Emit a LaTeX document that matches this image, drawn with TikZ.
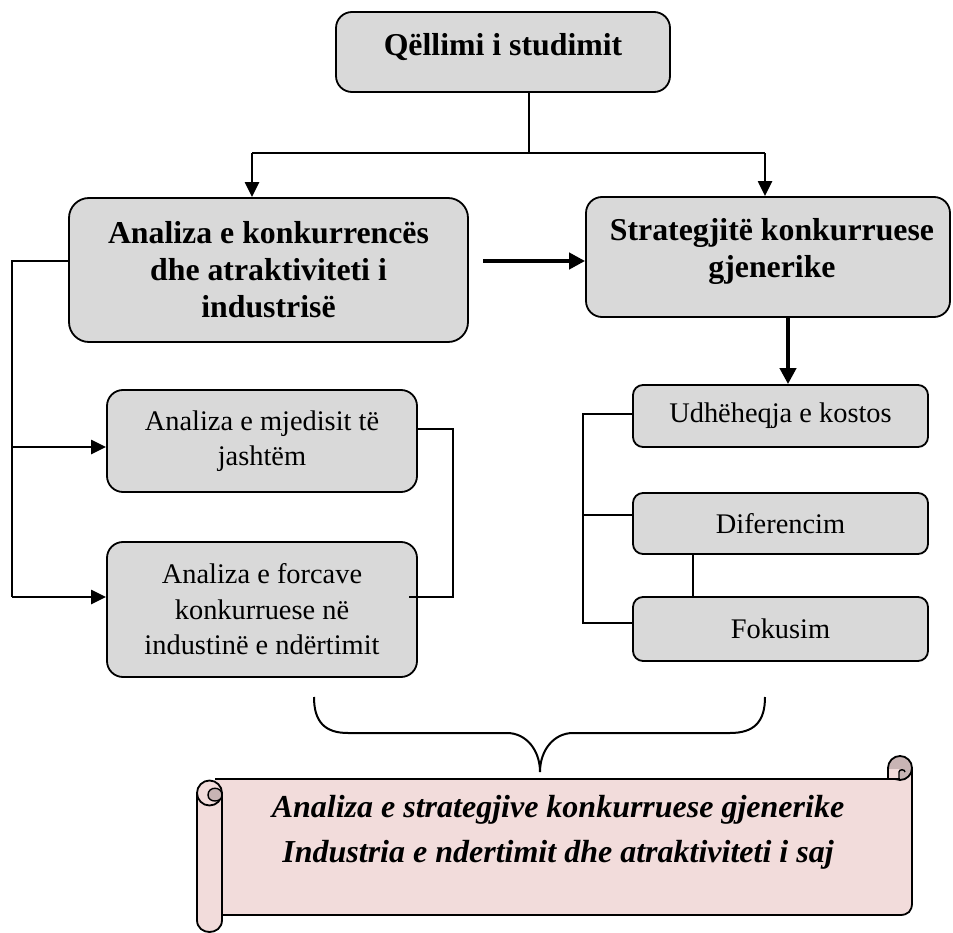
\documentclass[tikz,border=0pt]{standalone}
\usepackage{fontspec}
\setmainfont{Liberation Serif}
\usetikzlibrary{arrows.meta,calc}
\definecolor{boxgray}{HTML}{D9D9D9}
\definecolor{scrollpink}{HTML}{F2DCDB}
\definecolor{scrollroll}{RGB}{200,180,180}

\begin{document}
\begin{tikzpicture}[x=1pt,y=-1pt,
  box/.style={draw,fill=boxgray,line width=1.8pt,rounded corners=16pt,inner sep=0pt,align=center},
  smallbox/.style={box,rounded corners=10pt},
  headtxt/.style={font=\fontsize{31.8}{37}\selectfont\bfseries,align=center},
  bodytxt/.style={font=\fontsize{28.4}{35.5}\selectfont,align=center},
  scrolltxt/.style={font=\fontsize{32}{32}\selectfont\bfseries\itshape},
  link/.style={line width=1.6pt},
  thicklink/.style={line width=2.3pt},
  arr/.style={line width=2.3pt,-{Triangle[length=15pt,width=14pt]}},
  heavyarr/.style={line width=4pt,-{Triangle[length=16pt,width=16pt]}},
  scrollline/.style={line width=1.8pt,line join=round},
]
\useasboundingbox (0,0) rectangle (953,933);

% ---- boxes ----
\node[box,minimum width=334pt,minimum height=80pt] (goal) at (503,52) {};
\node[headtxt] (goaltxt) at ([yshift=5pt]goal.center) {Qëllimi i studimit};

\node[box,headtxt,rounded corners=20pt,minimum width=399pt,minimum height=144pt] (ana) at (268.5,270)
  {Analiza e konkurrencës\\dhe atraktiviteti i\\industrisë};

\node[box,minimum width=364pt,minimum height=120pt] (strat) at (768,257) {};
\node[headtxt] (strattxt) at ([xshift=4pt,yshift=5.5pt]strat.center) {Strategjitë konkurruese\\gjenerike};

\node[box,bodytxt,minimum width=310pt,minimum height=102pt] (env) at (262,441)
  {Analiza e mjedisit të\\jashtëm};
\node[box,bodytxt,minimum width=310pt,minimum height=135pt] (forc) at (262,609.5)
  {Analiza e forcave\\konkurruese në\\industinë e ndërtimit};

\node[smallbox,bodytxt,minimum width=295pt,minimum height=62pt] (cost) at (780.5,416) {Udhëheqja e kostos};
\node[smallbox,bodytxt,minimum width=295pt,minimum height=61pt] (dif) at (780.5,523.5) {Diferencim};
\node[smallbox,bodytxt,minimum width=295pt,minimum height=64pt] (fok) at (780.5,629) {Fokusim};

% ---- connectors from the goal ----
\coordinate (fork) at (529,153);
\coordinate (forkL) at (252,153);
\coordinate (forkR) at (765,153);
\draw[link] (goal.south -| fork) -- (fork);
\draw[thicklink] (forkL) -- (forkR);
\draw[arr] (forkL) -- (forkL |- ana.north);
\draw[arr] (forkR) -- (forkR |- strat.north);

% ---- left branch ----
\coordinate (lspine) at (12,261);
\coordinate (lenv) at (12,447);
\coordinate (lforc) at (12,597);
\draw[thicklink] (ana.west |- lspine) -- (lspine) -- (lforc);
\draw[arr] (lenv) -- (env.west |- lenv);
\draw[arr] (lforc) -- (forc.west |- lforc);
\coordinate (envout) at (453,429);
\coordinate (forcin) at (409,597);
\draw[link] (env.east |- envout) -- (envout) -- (envout |- forcin) -- (forcin);

% ---- heavy arrows ----
\coordinate (hstart) at (483,261);
\draw[heavyarr] (hstart) -- (strat.west |- hstart);
\coordinate (vline) at (788,0);
\draw[heavyarr] (strat.south -| vline) -- (cost.north -| vline);

% ---- right branch ----
\coordinate (rtop) at (583,414);
\coordinate (rmid) at (583,515);
\coordinate (rbot) at (583,623);
\draw[link,line width=1.8pt] (cost.west |- rtop) -- (rtop) -- (rbot) -- (fok.west |- rbot);
\draw[link,line width=1.8pt] (rmid) -- (dif.west |- rmid);
\coordinate (dfx) at (693,0);
\draw[link,line width=1.8pt] (dif.south -| dfx) -- (fok.north -| dfx);

% ---- brace ----
\coordinate (tip) at (540,772);
\draw[line width=2pt]
  (314,697) .. controls (314,722) and (325,733) .. (348,733) -- (507,733)
  .. controls (526,733) and (540,750) .. (tip)
  .. controls (540,750) and (554,733) .. (573,733) -- (730,733)
  .. controls (754,733) and (765,722) .. (765,697);

% ---- scroll ----
\fill[scrollpink] (215,779) -- (888,779) -- (888,768) -- (912,768) -- (912,903)
  .. controls (912,911) and (908,915) .. (900,915) -- (215,915) -- cycle;
\draw[scrollline] (215,779) -- (888,779);
\draw[scrollline] (912,768) -- (912,903) .. controls (912,911) and (908,915) .. (900,915) -- (215,915);
% right curl
\draw[scrollline,fill=scrollroll] (900,768) circle[radius=12pt];
\fill[scrollpink] (889,769) rectangle (899.5,779);
\draw[line width=1.4pt] (888,779) -- (888,768);
\draw[line width=1.4pt,fill=scrollroll] (899,778) -- (899,772) .. controls (899,769) and (905,769) .. (905,772);
\draw[scrollline] (888,779) -- (900,779);
% left roll
\draw[scrollline,fill=scrollpink] (197,793) -- (197,920) .. controls (197,936) and (222,936) .. (222,920) -- (222,793);
\draw[scrollline,fill=scrollpink] (209.5,793) circle[radius=12.5pt];
\draw[line width=1.4pt,fill=scrollroll] (208,795) .. controls (208,786) and (222,786) .. (222,795)
  .. controls (222,803) and (208,803) .. (208,795) -- cycle;

\node[scrolltxt] (scrollA) at (558,810) {Analiza e strategjive konkurruese gjenerike};
\node[scrolltxt] (scrollB) at (558,855) {Industria e ndertimit dhe atraktiviteti i saj};
\end{tikzpicture}
\end{document}
